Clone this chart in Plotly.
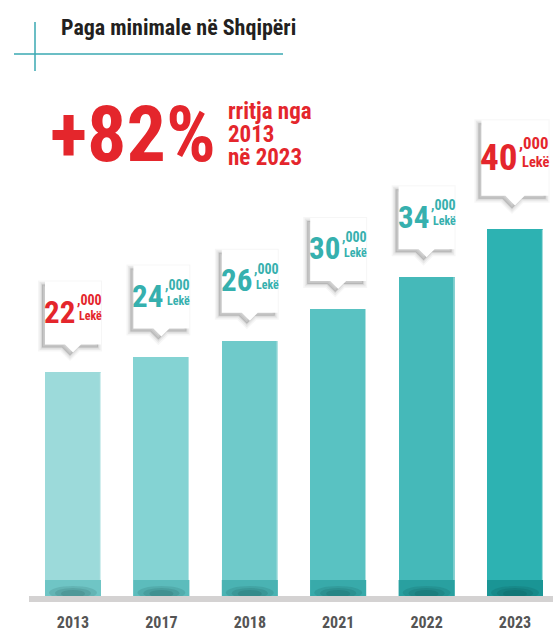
import plotly.graph_objects as go

# ---- data -------------------------------------------------------------
years = ["2013", "2017", "2018", "2021", "2022", "2023"]
wages = [22000, 24000, 26000, 30000, 34000, 40000]
growth_text = "+82%"
growth_note = ["rritja nga", "2013", "në 2023"]
title_text = "Paga minimale në Shqipëri"
currency = "Lekë"

# ---- styling ----------------------------------------------------------
W, H = 553, 632
FONT = "Roboto Condensed, DejaVu Sans Condensed, sans-serif"
RED = "#e4262c"
TEAL_TXT = "#36b0ae"
TEAL_LINE = "#3aa8b2"
bar_colors = ["#9cdada", "#84d3d3", "#6fcaca", "#59c2c2", "#45b9b9", "#2db2b2"]
band_colors = ["#6fc5c5", "#5cbcbc", "#4ab3b3", "#38aaaa", "#29a0a0", "#1a9595"]

# vertical scale of the value axis
Y_LO = -6140
PX_PER_UNIT = 7.944 / 1000
PLOT_BOTTOM_PX = 596
Y_HI = Y_LO + PLOT_BOTTOM_PX / PX_PER_UNIT

# horizontal layout of the categories
X_STEP = 88.4
X_LEFT = -73 / X_STEP
X_RIGHT = X_LEFT + W / X_STEP
BAR_W = 56 / X_STEP

pos = list(range(len(years)))

fig = go.Figure()

fig.add_trace(go.Bar(
    x=pos,
    y=[v - Y_LO for v in wages],
    base=Y_LO,
    width=BAR_W,
    marker=dict(color=bar_colors, line=dict(width=0)),
    hoverinfo="skip",
    showlegend=False,
))

shapes = []
annotations = []

# grey floor under the bars
shapes.append(dict(type="rect", xref="paper", yref="paper",
                   x0=29 / W, x1=1, y0=(H - 602) / H, y1=(H - 596) / H,
                   fillcolor="#d4d2d2", line=dict(width=0), layer="below"))

for i, (v, c) in enumerate(zip(wages, band_colors)):
    # light highlight along the right edge of each bar
    shapes.append(dict(type="line", xref="x", yref="y",
                       x0=i + BAR_W / 2 - 0.006, x1=i + BAR_W / 2 - 0.006,
                       y0=Y_LO, y1=v,
                       line=dict(color="rgba(255,255,255,0.55)", width=1.2)))
    # darker foot band + contact shadow
    shapes.append(dict(type="rect", xref="x", yref="y", ysizemode="pixel",
                       yanchor=Y_LO, y0=0, y1=16,
                       x0=i - BAR_W / 2, x1=i + BAR_W / 2,
                       fillcolor=c, line=dict(width=0)))
    for rx, ry in [(24, 9), (18, 7), (12, 5)]:
        shapes.append(dict(type="circle", xref="x", yref="y",
                           xsizemode="pixel", ysizemode="pixel",
                           xanchor=i, yanchor=Y_LO,
                           x0=-rx, x1=rx, y0=1 - ry / 2, y1=1 + ry,
                           fillcolor="rgba(0,40,40,0.10)", line=dict(width=0)))


def callout_path(s, dx=0.0, dy=0.0):
    w, h = 56 * s, 63 * s
    gap, ph, pw = 20 * s, 8 * s, 8 * s
    b = gap + ph
    t = b + h
    pts = [(-w / 2, b), (-pw, b), (0, gap), (pw, b), (w / 2, b), (w / 2, t), (-w / 2, t)]
    return "M " + " L ".join(f"{x + dx:.1f},{y + dy:.1f}" for x, y in pts) + " Z"


for i, v in enumerate(wages):
    last = i == len(wages) - 1
    s = 1.2 if last else 1.0
    col = RED if i in (0, len(wages) - 1) else TEAL_TXT
    # soft drop shadow
    for lw, op in [(8, 0.035), (5, 0.05), (2, 0.07)]:
        shapes.append(dict(type="path", xref="x", yref="y",
                           xsizemode="pixel", ysizemode="pixel",
                           xanchor=i, yanchor=v,
                           path=callout_path(s, -3, -3),
                           fillcolor=f"rgba(0,0,0,{op})",
                           line=dict(color=f"rgba(0,0,0,{op})", width=lw)))
    shapes.append(dict(type="path", xref="x", yref="y",
                       xsizemode="pixel", ysizemode="pixel",
                       xanchor=i, yanchor=v,
                       path=callout_path(s),
                       fillcolor="white", line=dict(width=0)))

    thousands = f"{v // 1000}"
    rest = f",{v % 1000:03d}"
    annotations.append(dict(x=i, y=v, xref="x", yref="y", text=f"<b>{thousands}</b>",
                            showarrow=False, xanchor="right", yanchor="middle",
                            xshift=4 * s, yshift=60 * s,
                            font=dict(family=FONT, size=31 * s, color=col)))
    annotations.append(dict(x=i, y=v, xref="x", yref="y", text=f"<b>{rest}</b>",
                            showarrow=False, xanchor="left", yanchor="middle",
                            xshift=2 * s, yshift=72 * s,
                            font=dict(family=FONT, size=14 * s, color=col)))
    annotations.append(dict(x=i, y=v, xref="x", yref="y", text=f"<b>{currency}</b>",
                            showarrow=False, xanchor="left", yanchor="middle",
                            xshift=4 * s, yshift=56 * s,
                            font=dict(family=FONT, size=12 * s, color=col)))

# header with teal cross-hair rule
shapes.append(dict(type="line", xref="paper", yref="paper",
                   x0=14 / W, x1=283 / W, y0=1 - 54 / H, y1=1 - 54 / H,
                   line=dict(color=TEAL_LINE, width=1.5)))
shapes.append(dict(type="line", xref="paper", yref="paper",
                   x0=35 / W, x1=35 / W, y0=1 - 22 / H, y1=1 - 71 / H,
                   line=dict(color=TEAL_LINE, width=1.5)))
annotations.append(dict(x=59 / W, y=1 - 27.5 / H, xref="paper", yref="paper",
                        text=f"<b>{title_text}</b>", showarrow=False,
                        xanchor="left", yanchor="middle",
                        font=dict(family=FONT, size=22, color="#231f20")))

# growth headline
annotations.append(dict(x=48 / W, y=1 - 134 / H, xref="paper", yref="paper",
                        text=f"<b>{growth_text}</b>", showarrow=False,
                        xanchor="left", yanchor="middle",
                        font=dict(family=FONT, size=78, color=RED)))
for k, line in enumerate(growth_note):
    annotations.append(dict(x=226 / W, y=1 - (111 + 23 * k) / H, xref="paper", yref="paper",
                            text=f"<b>{line}</b>", showarrow=False,
                            xanchor="left", yanchor="middle",
                            font=dict(family=FONT, size=23, color=RED)))

fig.update_layout(
    width=W, height=H,
    margin=dict(l=0, r=0, t=0, b=0),
    paper_bgcolor="white", plot_bgcolor="white",
    bargap=0,
    shapes=shapes,
    annotations=annotations,
    xaxis=dict(range=[X_LEFT, X_RIGHT], tickvals=pos, ticktext=years,
               showgrid=False, zeroline=False, showline=False, ticks="",
               ticklabelstandoff=15, fixedrange=True,
               tickfont=dict(family=FONT, size=16, color="#555555", weight="bold")),
    yaxis=dict(range=[Y_LO, Y_HI], domain=[(H - PLOT_BOTTOM_PX) / H, 1],
               visible=False, fixedrange=True),
)

fig.write_html("out.html")
